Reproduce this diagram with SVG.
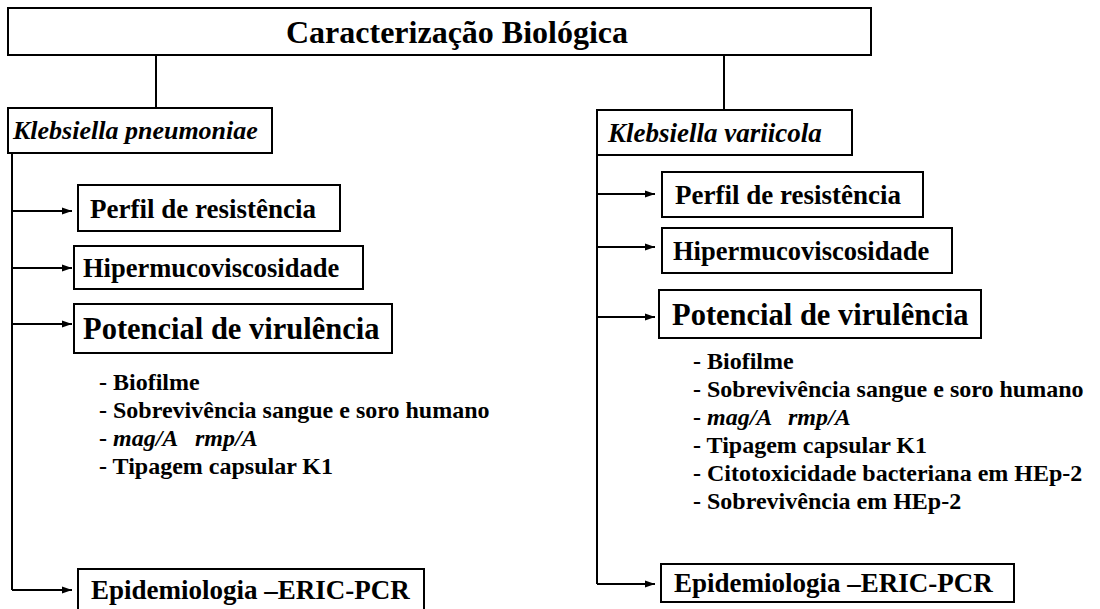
<svg xmlns="http://www.w3.org/2000/svg" width="1100" height="609" viewBox="0 0 1100 609">
<style>
.box{fill:#fff;stroke:#000;stroke-width:2}
.ln{fill:none;stroke:#000;stroke-width:2}
.t{font-family:"Liberation Serif","Times New Roman",serif;font-weight:bold;fill:#000}
.i{font-style:italic}
</style>
<defs>
<marker id="ah" viewBox="0 0 10 10" refX="10" refY="5" markerWidth="10" markerHeight="10" markerUnits="userSpaceOnUse" orient="auto">
<path d="M0,1.5 L10,5 L0,8.5 z" fill="#000"/>
</marker>
</defs>
<rect width="1100" height="609" fill="#fff"/>
<g id="connectors">
<path class="ln" d="M156,55 V108"/>
<path class="ln" d="M724,55 V110"/>
<path class="ln" d="M12,153 V590"/>
<path class="ln" d="M12,211 H72" marker-end="url(#ah)"/>
<path class="ln" d="M12,268 H72" marker-end="url(#ah)"/>
<path class="ln" d="M12,324 H72" marker-end="url(#ah)"/>
<path class="ln" d="M12,590 H72" marker-end="url(#ah)"/>
<path class="ln" d="M597,155 V584"/>
<path class="ln" d="M597,194 H655" marker-end="url(#ah)"/>
<path class="ln" d="M597,247 H655" marker-end="url(#ah)"/>
<path class="ln" d="M597,317 H655" marker-end="url(#ah)"/>
<path class="ln" d="M597,584 H655" marker-end="url(#ah)"/>
</g>
<g id="root">
<rect class="box" x="8" y="8" width="863" height="47"/>
<text class="t" x="457" y="43" font-size="32" text-anchor="middle">Caracterização Biológica</text>
</g>
<g id="kp">
<rect class="box" x="8" y="108" width="264" height="45"/>
<text class="t i" x="13" y="139" font-size="26">Klebsiella pneumoniae</text>
</g>
<g id="kv">
<rect class="box" x="597" y="110" width="255" height="45"/>
<text class="t i" x="608" y="142" font-size="27">Klebsiella variicola</text>
</g>
<g id="kp-perfil">
<rect class="box" x="78" y="185" width="262" height="46"/>
<text class="t" x="90" y="218" font-size="27">Perfil de resistência</text>
</g>
<g id="kp-hiper">
<rect class="box" x="74" y="246" width="289" height="43"/>
<text class="t" x="83" y="277" font-size="26.5">Hipermucoviscosidade</text>
</g>
<g id="kp-pot">
<rect class="box" x="74" y="304" width="318" height="49"/>
<text class="t" x="83" y="339" font-size="30.5">Potencial de virulência</text>
</g>
<g id="kp-list">
<text class="t" x="99" y="390" font-size="24">- Biofilme</text>
<text class="t" x="99" y="418" font-size="24">- Sobrevivência sangue e soro humano</text>
<text class="t" x="99" y="446" font-size="24">- <tspan class="i">mag/A</tspan><tspan class="i" x="195">rmp/A</tspan></text>
<text class="t" x="99" y="474" font-size="24">- Tipagem capsular K1</text>
</g>
<g id="kp-epi">
<rect class="box" x="78" y="569" width="346" height="45"/>
<text class="t" x="91" y="599" font-size="27">Epidemiologia –ERIC-PCR</text>
</g>
<g id="kv-perfil">
<rect class="box" x="662" y="172" width="261" height="45"/>
<text class="t" x="675" y="204" font-size="27">Perfil de resistência</text>
</g>
<g id="kv-hiper">
<rect class="box" x="662" y="228" width="290" height="45"/>
<text class="t" x="673" y="260" font-size="26.5">Hipermucoviscosidade</text>
</g>
<g id="kv-pot">
<rect class="box" x="659" y="290" width="322" height="48"/>
<text class="t" x="672" y="325" font-size="30.5">Potencial de virulência</text>
</g>
<g id="kv-list">
<text class="t" x="693" y="369" font-size="24">- Biofilme</text>
<text class="t" x="693" y="397" font-size="24">- Sobrevivência sangue e soro humano</text>
<text class="t" x="693" y="425" font-size="24">- <tspan class="i">mag/A</tspan><tspan class="i" x="788">rmp/A</tspan></text>
<text class="t" x="693" y="453" font-size="24">- Tipagem capsular K1</text>
<text class="t" x="693" y="481" font-size="24">- Citotoxicidade bacteriana em HEp-2</text>
<text class="t" x="693" y="509" font-size="24">- Sobrevivência em HEp-2</text>
</g>
<g id="kv-epi">
<rect class="box" x="661" y="564" width="353" height="38"/>
<text class="t" x="674" y="592" font-size="27">Epidemiologia –ERIC-PCR</text>
</g>
</svg>
